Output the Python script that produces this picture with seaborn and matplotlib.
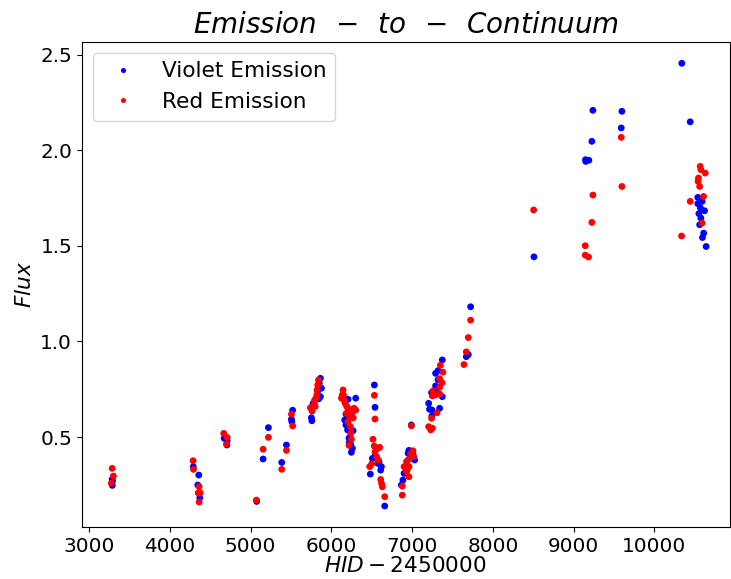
import pandas as pd
import matplotlib
matplotlib.use("Agg")
import matplotlib.pyplot as plt
import seaborn as sns

# violet emission (HJD - 2450000, flux)
violet_hjd = [3285, 3290, 3287,
              4290, 4358, 4345, 4370,
              4672, 4709, 4706,
              5075, 5154, 5220, 5385, 5443,
              5520, 5505, 5510,
              5752, 5758, 5773, 5864, 5876, 5850, 5864, 5830, 5845,
              6206, 6301, 6165, 6180, 6200, 6268, 6218, 6260, 6247, 6180, 6230, 6220, 6240,
              6532, 6540, 6507, 6575, 6619, 6482, 6610, 6660, 6540, 6590,
              6990, 6950, 7031, 6886, 6900, 6960, 6980, 7010, 6866,
              7204, 7215, 7245, 7245, 7340, 7373, 7240, 7300, 7290, 7320, 7290, 7320, 7373,
              7670, 7695, 7724,
              8508,
              9147, 9188, 9150, 9225, 9238,
              9589, 9597,
              10339, 10443,
              10537, 10590, 10537, 10570, 10620, 10550, 10575, 10560, 10610, 10595, 10640]
violet_flux = [0.279, 0.270, 0.247,
               0.345, 0.301, 0.249, 0.182,
               0.493, 0.481, 0.458,
               0.163, 0.385, 0.549, 0.367, 0.458,
               0.640, 0.593, 0.580,
               0.601, 0.585, 0.676, 0.711, 0.755, 0.781, 0.807, 0.740, 0.700,
               0.697, 0.703, 0.589, 0.563, 0.537, 0.533, 0.493, 0.441, 0.420, 0.620, 0.500, 0.470, 0.460,
               0.772, 0.655, 0.388, 0.362, 0.345, 0.306, 0.327, 0.139, 0.400, 0.370,
               0.563, 0.415, 0.380, 0.275, 0.310, 0.430, 0.400, 0.410, 0.249,
               0.676, 0.645, 0.641, 0.610, 0.650, 0.711, 0.732, 0.746, 0.767, 0.800, 0.833, 0.847, 0.903,
               0.920, 0.931, 1.181,
               1.442,
               1.950, 1.947, 1.941, 2.046, 2.208,
               2.116, 2.203,
               2.454, 2.148,
               1.753, 1.732, 1.720, 1.697, 1.683, 1.668, 1.645, 1.610, 1.566, 1.543, 1.496]

# red emission
red_hjd = [3285, 3300, 3275,
           4287, 4292, 4362, 4350, 4375, 4362,
           4667, 4709, 4700,
           5071, 5154, 5220, 5385, 5443,
           5505, 5520,
           5740, 5760, 5793, 5810, 5820, 5822, 5830, 5840, 5800, 5790,
           6144, 6124, 6135, 6170, 6206, 6247, 6301, 6185, 6230, 6206, 6235, 6240, 6247,
           6218, 6150, 6160, 6190, 6260, 6270, 6280,
           6532, 6540, 6515, 6530, 6598, 6540, 6560, 6580, 6474, 6610, 6620, 6660, 6500, 6570, 6630,
           6990, 7010, 7020, 6930, 6900, 6960, 6930, 6960, 6878, 6878, 6950, 6980, 6940,
           7204, 7230, 7250, 7240, 7308, 7258, 7250, 7290, 7340, 7340, 7370, 7340, 7380, 7349,
           7641, 7670, 7695, 7724,
           8504,
           9143, 9143, 9184, 9225, 9238,
           9589, 9597,
           10336, 10443,
           10567, 10575, 10629, 10545, 10540, 10560, 10608, 10590]
red_flux = [0.336, 0.296, 0.258,
            0.376, 0.331, 0.240, 0.208, 0.208, 0.160,
            0.519, 0.498, 0.463,
            0.170, 0.436, 0.498, 0.331, 0.430,
            0.619, 0.558,
            0.653, 0.636, 0.694, 0.703, 0.720, 0.746, 0.772, 0.798, 0.660, 0.680,
            0.746, 0.703, 0.720, 0.676, 0.650, 0.641, 0.641, 0.624, 0.606, 0.580, 0.554, 0.520, 0.488,
            0.456, 0.720, 0.690, 0.660, 0.630, 0.600, 0.650,
            0.718, 0.594, 0.488, 0.453, 0.446, 0.423, 0.397, 0.380, 0.345, 0.278, 0.258, 0.188, 0.360, 0.440, 0.240,
            0.558, 0.428, 0.397, 0.371, 0.345, 0.345, 0.318, 0.292, 0.243, 0.196, 0.380, 0.410, 0.330,
            0.554, 0.537, 0.546, 0.598, 0.627, 0.741, 0.715, 0.720, 0.725, 0.760, 0.784, 0.805, 0.839, 0.875,
            0.879, 0.945, 1.020, 1.111,
            1.687,
            1.500, 1.451, 1.441, 1.622, 1.765,
            2.067, 1.810,
            1.551, 1.732,
            1.915, 1.898, 1.880, 1.854, 1.837, 1.810, 1.758, 1.619]

df = pd.concat([
    pd.DataFrame({"hjd": violet_hjd, "flux": violet_flux, "line": "Violet Emission"}),
    pd.DataFrame({"hjd": red_hjd, "flux": red_flux, "line": "Red Emission"}),
], ignore_index=True)

sns.set_style("ticks", {"text.color": "black", "axes.labelcolor": "black",
                        "xtick.color": "black", "ytick.color": "black",
                        "axes.edgecolor": "black"})
fig, ax = plt.subplots(figsize=(7.31, 5.79), dpi=100)
fig.subplots_adjust(left=0.112, right=0.998, top=0.928, bottom=0.09)

sns.scatterplot(data=df, x="hjd", y="flux", hue="line",
                palette={"Violet Emission": "blue", "Red Emission": "red"},
                s=24, linewidth=0, ax=ax)

ax.set_xlim(2910, 10930)
ax.set_ylim(0.03, 2.567)
ax.set_title(r"$Emission\enspace-\enspace to\enspace-\enspace Continuum$", fontsize=20)
ax.set_xlabel("$HID-2450000$", fontsize=15.6, labelpad=0)
ax.set_ylabel("$Flux$", fontsize=15.6)
ax.tick_params(labelsize=14.4)
ax.legend(loc="upper left", fontsize=15.6, markerscale=0.75)

fig.savefig("out.png", dpi=100)
